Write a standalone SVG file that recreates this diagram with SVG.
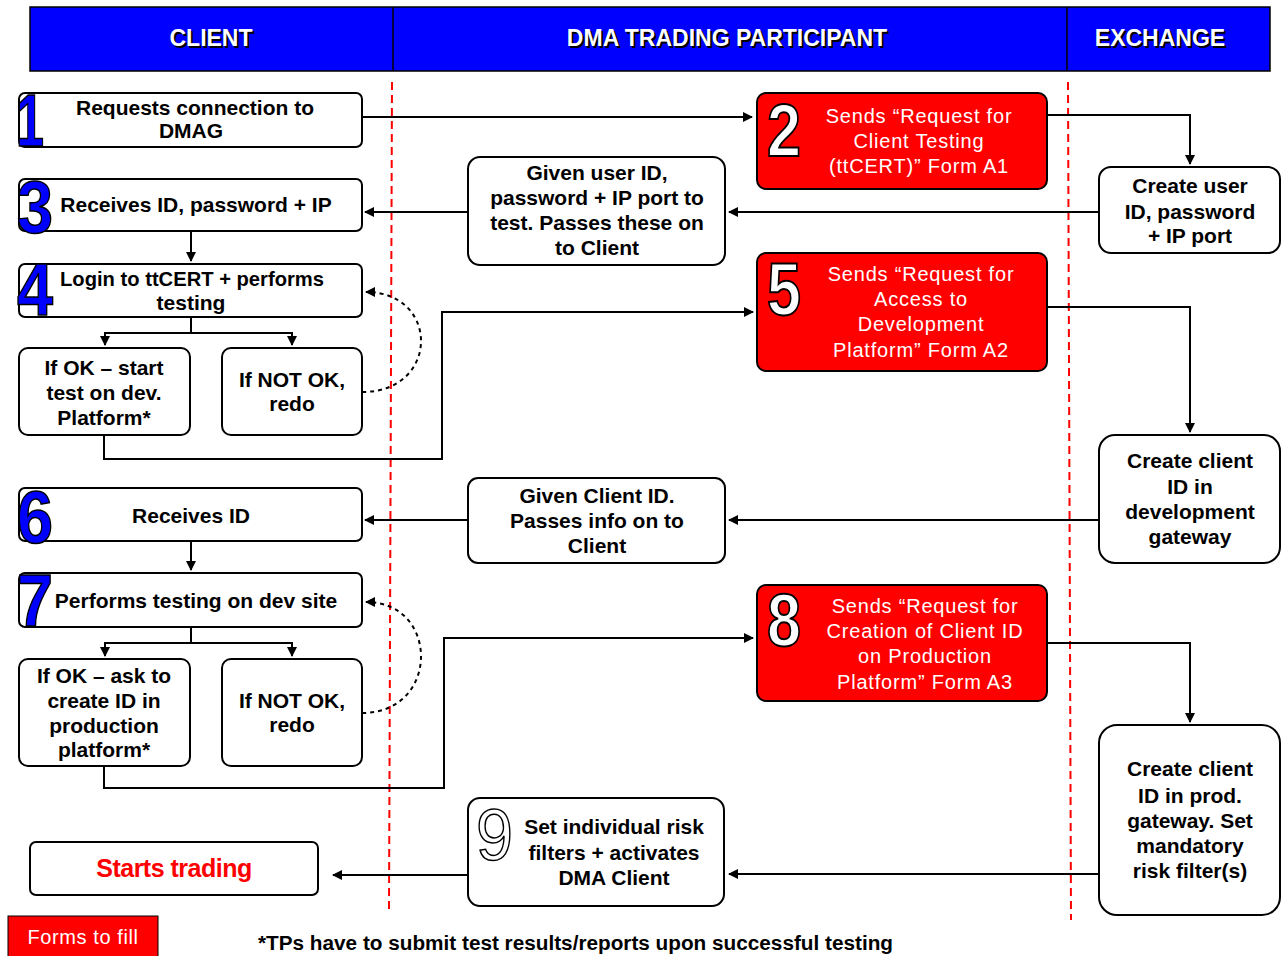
<svg xmlns="http://www.w3.org/2000/svg" width="1285" height="956" viewBox="0 0 1285 956">
  <defs>
    <marker id="arr" viewBox="0 0 10 10" refX="9" refY="5" markerWidth="5" markerHeight="5" orient="auto-start-reverse" markerUnits="strokeWidth">
      <path d="M0,0 L10,5 L0,10 z" fill="#000"/>
    </marker>
    <style>
      .hdr { font-family: "Liberation Sans", Arial, sans-serif; font-weight: bold; font-size: 23px; fill: #fff; text-anchor: middle; }
      .hdrs { font-family: "Liberation Sans", Arial, sans-serif; font-weight: bold; font-size: 23px; fill: #000; text-anchor: middle; }
      .box { fill: #fff; stroke: #000; stroke-width: 2; }
      .rbox { fill: #ff0000; stroke: #000; stroke-width: 2; }
      .t { font-family: "Liberation Sans", Arial, sans-serif; font-weight: bold; font-size: 21px; fill: #000; text-anchor: middle; }
      .rt { font-family: "Liberation Sans", Arial, sans-serif; font-size: 20px; fill: #fff; text-anchor: middle; letter-spacing: 0.8px; }
      .num { font-family: "Liberation Sans", Arial, sans-serif; font-weight: bold; font-size: 74px; fill: #0000ff; stroke: #000; stroke-width: 1.5; }
      .wnum { font-family: "Liberation Sans", Arial, sans-serif; font-weight: bold; font-size: 74px; fill: #fff; stroke: #000; stroke-width: 2; }
      .lane { stroke: #ff0000; stroke-width: 2; stroke-dasharray: 8 5; fill: none; }
      .c { stroke: #000; stroke-width: 2; fill: none; }
      .loop { stroke: #000; stroke-width: 2; fill: none; stroke-dasharray: 4 4; }
    </style>
  </defs>

  <!-- header band -->
  <g id="header">
    <rect x="30" y="7" width="1240" height="64" fill="#0000ff" stroke="#000" stroke-width="1.5"/>
    <line x1="393" y1="7" x2="393" y2="71" stroke="#000" stroke-width="1.5"/>
    <line x1="1067" y1="7" x2="1067" y2="71" stroke="#000" stroke-width="1.5"/>
    <text class="hdrs" x="213" y="48">CLIENT</text>
    <text class="hdr" x="211" y="46">CLIENT</text>
    <text class="hdrs" x="729" y="48">DMA TRADING PARTICIPANT</text>
    <text class="hdr" x="727" y="46">DMA TRADING PARTICIPANT</text>
    <text class="hdrs" x="1162" y="48">EXCHANGE</text>
    <text class="hdr" x="1160" y="46">EXCHANGE</text>
  </g>

  <!-- swimlane separators -->
  <g id="lanes">
    <line class="lane" x1="392" y1="82" x2="389" y2="912"/>
    <line class="lane" x1="1068" y1="82" x2="1071" y2="920"/>
  </g>

  <!-- connectors -->
  <g id="connectors">
    <line class="c" x1="362" y1="117" x2="752" y2="117" marker-end="url(#arr)"/>
    <polyline class="c" points="1047,115 1190,115 1190,164" marker-end="url(#arr)"/>
    <line class="c" x1="1099" y1="212" x2="729" y2="212" marker-end="url(#arr)"/>
    <line class="c" x1="468" y1="212" x2="365" y2="212" marker-end="url(#arr)"/>
    <line class="c" x1="191" y1="231" x2="191" y2="261" marker-end="url(#arr)"/>
    <polyline class="c" points="191,317 191,333 105,333 105,345" marker-end="url(#arr)"/>
    <polyline class="c" points="191,333 292,333 292,345" marker-end="url(#arr)"/>
    <path class="loop" d="M362,392 C440,392 440,292 366,292" marker-end="url(#arr)"/>
    <polyline class="c" points="104,435 104,459 442,459 442,312 753,312" marker-end="url(#arr)"/>
    <polyline class="c" points="1047,307 1190,307 1190,432" marker-end="url(#arr)"/>
    <line class="c" x1="1099" y1="520" x2="729" y2="520" marker-end="url(#arr)"/>
    <line class="c" x1="468" y1="520" x2="365" y2="520" marker-end="url(#arr)"/>
    <line class="c" x1="191" y1="541" x2="191" y2="570" marker-end="url(#arr)"/>
    <polyline class="c" points="191,627 191,643 105,643 105,656" marker-end="url(#arr)"/>
    <polyline class="c" points="191,643 292,643 292,656" marker-end="url(#arr)"/>
    <path class="loop" d="M362,713 C440,713 440,602 366,602" marker-end="url(#arr)"/>
    <polyline class="c" points="104,766 104,788 444,788 444,638 753,638" marker-end="url(#arr)"/>
    <polyline class="c" points="1047,643 1190,643 1190,722" marker-end="url(#arr)"/>
    <line class="c" x1="1099" y1="874" x2="729" y2="874" marker-end="url(#arr)"/>
    <line class="c" x1="468" y1="875" x2="333" y2="875" marker-end="url(#arr)"/>
  </g>

  <!-- client lane -->
  <g id="step1">
    <rect class="box" x="19" y="93" width="343" height="54" rx="6"/>
    <text class="num" x="16" y="146" textLength="28" lengthAdjust="spacingAndGlyphs">1</text>
    <text class="t" x="195" y="115">Requests connection to</text>
    <text class="t" x="191" y="138">DMAG</text>
  </g>
  <g id="step3">
    <rect class="box" x="19" y="179" width="343" height="52" rx="6"/>
    <text class="num" x="17" y="233" textLength="36" lengthAdjust="spacingAndGlyphs">3</text>
    <text class="t" x="196" y="212">Receives ID, password + IP</text>
  </g>
  <g id="step4">
    <rect class="box" x="19" y="264" width="343" height="53" rx="6"/>
    <text class="num" x="17" y="315" textLength="36" lengthAdjust="spacingAndGlyphs">4</text>
    <text class="t" x="192" y="286" textLength="264" lengthAdjust="spacingAndGlyphs">Login to ttCERT + performs</text>
    <text class="t" x="191" y="310">testing</text>
  </g>
  <g id="ok1">
    <rect class="box" x="19" y="348" width="171" height="87" rx="9"/>
    <text class="t" x="104" y="375">If OK – start</text>
    <text class="t" x="104" y="400">test on dev.</text>
    <text class="t" x="104" y="425">Platform*</text>
  </g>
  <g id="notok1">
    <rect class="box" x="222" y="348" width="140" height="87" rx="9"/>
    <text class="t" x="292" y="387">If NOT OK,</text>
    <text class="t" x="292" y="411">redo</text>
  </g>
  <g id="step6">
    <rect class="box" x="19" y="488" width="343" height="53" rx="6"/>
    <text class="num" x="17" y="543" textLength="36" lengthAdjust="spacingAndGlyphs">6</text>
    <text class="t" x="191" y="523">Receives ID</text>
  </g>
  <g id="step7">
    <rect class="box" x="19" y="573" width="343" height="54" rx="6"/>
    <text class="num" x="17" y="626" textLength="36" lengthAdjust="spacingAndGlyphs">7</text>
    <text class="t" x="196" y="608">Performs testing on dev site</text>
  </g>
  <g id="ok2">
    <rect class="box" x="19" y="659" width="171" height="107" rx="9"/>
    <text class="t" x="104" y="683">If OK – ask to</text>
    <text class="t" x="104" y="708">create ID in</text>
    <text class="t" x="104" y="733">production</text>
    <text class="t" x="104" y="757">platform*</text>
  </g>
  <g id="notok2">
    <rect class="box" x="222" y="659" width="140" height="107" rx="9"/>
    <text class="t" x="292" y="708">If NOT OK,</text>
    <text class="t" x="292" y="732">redo</text>
  </g>
  <g id="start-trading">
    <rect class="box" x="30" y="842" width="288" height="53" rx="6"/>
    <text x="174" y="877" font-family="Liberation Sans, Arial, sans-serif" font-weight="bold" font-size="25" fill="#ff0000" text-anchor="middle" letter-spacing="-0.5">Starts trading</text>
  </g>

  <!-- trading participant lane -->
  <g id="step2">
    <rect class="rbox" x="757" y="93" width="290" height="96" rx="9"/>
    <text class="wnum" x="767" y="156" textLength="34" lengthAdjust="spacingAndGlyphs">2</text>
    <text class="rt" x="919" y="123">Sends “Request for</text>
    <text class="rt" x="919" y="148">Client Testing</text>
    <text class="rt" x="919" y="173">(ttCERT)” Form A1</text>
  </g>
  <g id="given-user-id">
    <rect class="box" x="468" y="157" width="257" height="108" rx="12"/>
    <text class="t" x="597" y="180">Given user ID,</text>
    <text class="t" x="597" y="205">password + IP port to</text>
    <text class="t" x="597" y="230">test. Passes these on</text>
    <text class="t" x="597" y="255">to Client</text>
  </g>
  <g id="step5">
    <rect class="rbox" x="757" y="253" width="290" height="118" rx="9"/>
    <text class="wnum" x="767" y="315" textLength="34" lengthAdjust="spacingAndGlyphs">5</text>
    <text class="rt" x="921" y="281">Sends “Request for</text>
    <text class="rt" x="921" y="306">Access to</text>
    <text class="rt" x="921" y="331">Development</text>
    <text class="rt" x="921" y="357">Platform” Form A2</text>
  </g>
  <g id="given-client-id">
    <rect class="box" x="468" y="478" width="257" height="85" rx="10"/>
    <text class="t" x="597" y="503">Given Client ID.</text>
    <text class="t" x="597" y="528">Passes info on to</text>
    <text class="t" x="597" y="553">Client</text>
  </g>
  <g id="step8">
    <rect class="rbox" x="757" y="585" width="290" height="116" rx="9"/>
    <text class="wnum" x="767" y="646" textLength="34" lengthAdjust="spacingAndGlyphs">8</text>
    <text class="rt" x="925" y="613">Sends “Request for</text>
    <text class="rt" x="925" y="638">Creation of Client ID</text>
    <text class="rt" x="925" y="663">on Production</text>
    <text class="rt" x="925" y="689">Platform” Form A3</text>
  </g>
  <g id="step9">
    <rect class="box" x="468" y="798" width="256" height="108" rx="12"/>
    <text x="476" y="860" font-family="Liberation Sans, Arial, sans-serif" font-size="72" fill="#fff" stroke="#000" stroke-width="1.5" textLength="37" lengthAdjust="spacingAndGlyphs">9</text>
    <text class="t" x="614" y="834">Set individual risk</text>
    <text class="t" x="614" y="860">filters + activates</text>
    <text class="t" x="614" y="885" font-weight="normal">DMA Client</text>
  </g>

  <!-- exchange lane -->
  <g id="create-user">
    <rect class="box" x="1099" y="167" width="181" height="86" rx="12"/>
    <text class="t" x="1190" y="193">Create user</text>
    <text class="t" x="1190" y="219">ID, password</text>
    <text class="t" x="1190" y="243">+ IP port</text>
  </g>
  <g id="create-dev-id">
    <rect class="box" x="1099" y="435" width="181" height="128" rx="16"/>
    <text class="t" x="1190" y="468">Create client</text>
    <text class="t" x="1190" y="494">ID in</text>
    <text class="t" x="1190" y="519">development</text>
    <text class="t" x="1190" y="544">gateway</text>
  </g>
  <g id="create-prod-id">
    <rect class="box" x="1099" y="725" width="181" height="190" rx="18"/>
    <text class="t" x="1190" y="776">Create client</text>
    <text class="t" x="1190" y="803">ID in prod.</text>
    <text class="t" x="1190" y="828">gateway. Set</text>
    <text class="t" x="1190" y="853">mandatory</text>
    <text class="t" x="1190" y="878">risk filter(s)</text>
  </g>

  <!-- legend and footnote -->
  <g id="legend">
    <rect x="8" y="916" width="150" height="42" fill="#ff0000" stroke="#000" stroke-width="1"/>
    <text x="83" y="944" font-family="Liberation Sans, Arial, sans-serif" font-size="20" fill="#fff" text-anchor="middle" letter-spacing="0.6">Forms to fill</text>
  </g>
  <g id="footnote">
    <text x="258" y="950" font-family="Liberation Sans, Arial, sans-serif" font-weight="bold" font-size="20" fill="#000" textLength="635" lengthAdjust="spacingAndGlyphs">*TPs have to submit test results/reports upon successful testing</text>
  </g>
</svg>
